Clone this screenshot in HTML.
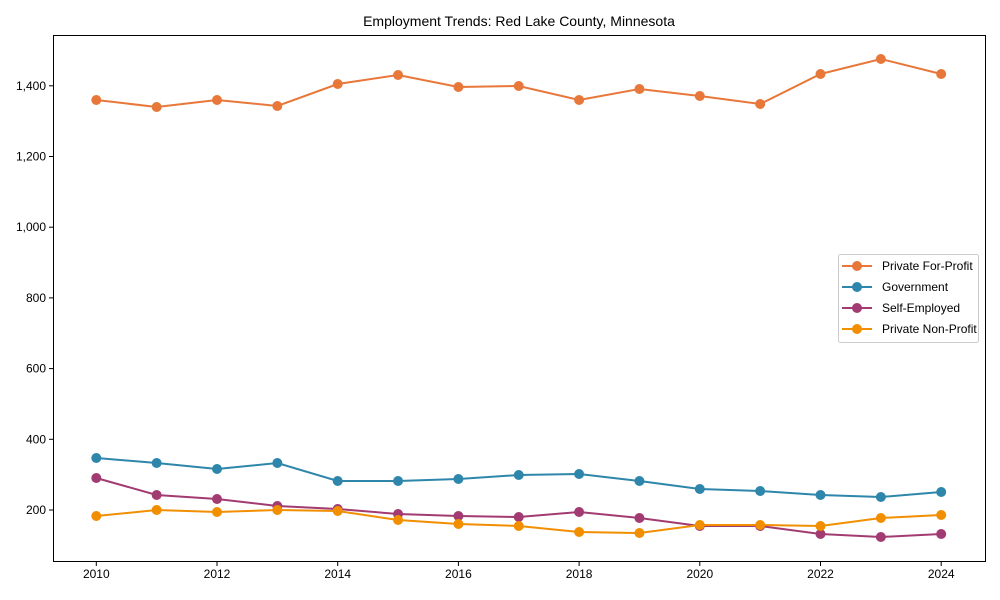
<!DOCTYPE html>
<html><head><meta charset="utf-8"><style>
body{margin:0;background:#fff;}
svg{display:block;font-family:"Liberation Sans",Arial,sans-serif;}
</style></head><body>
<svg width="1000" height="600" viewBox="0 0 1000 600">
<rect width="1000" height="600" fill="#fff"/>
<text x="519" y="26" font-size="14" text-anchor="middle" fill="#000">Employment Trends: Red Lake County, Minnesota</text>
<rect x="53.5" y="35.5" width="932" height="526" fill="none" stroke="#000" stroke-width="1"/>
<g font-size="12" fill="#000" text-anchor="end">
<line x1="49" y1="510" x2="53" y2="510" stroke="#000"/><text x="46" y="514">200</text>
<line x1="49" y1="439.3" x2="53" y2="439.3" stroke="#000"/><text x="46" y="443.3">400</text>
<line x1="49" y1="368.6" x2="53" y2="368.6" stroke="#000"/><text x="46" y="372.6">600</text>
<line x1="49" y1="297.9" x2="53" y2="297.9" stroke="#000"/><text x="46" y="301.9">800</text>
<line x1="49" y1="227.2" x2="53" y2="227.2" stroke="#000"/><text x="46" y="231.2">1,000</text>
<line x1="49" y1="156.5" x2="53" y2="156.5" stroke="#000"/><text x="46" y="160.5">1,200</text>
<line x1="49" y1="85.8" x2="53" y2="85.8" stroke="#000"/><text x="46" y="89.8">1,400</text>
</g>
<g font-size="12" fill="#000" text-anchor="middle">
<line x1="96.3" y1="562" x2="96.3" y2="566" stroke="#000"/><text x="96.3" y="578">2010</text>
<line x1="217" y1="562" x2="217" y2="566" stroke="#000"/><text x="217" y="578">2012</text>
<line x1="337.7" y1="562" x2="337.7" y2="566" stroke="#000"/><text x="337.7" y="578">2014</text>
<line x1="458.4" y1="562" x2="458.4" y2="566" stroke="#000"/><text x="458.4" y="578">2016</text>
<line x1="579.1" y1="562" x2="579.1" y2="566" stroke="#000"/><text x="579.1" y="578">2018</text>
<line x1="699.8" y1="562" x2="699.8" y2="566" stroke="#000"/><text x="699.8" y="578">2020</text>
<line x1="820.5" y1="562" x2="820.5" y2="566" stroke="#000"/><text x="820.5" y="578">2022</text>
<line x1="941.2" y1="562" x2="941.2" y2="566" stroke="#000"/><text x="941.2" y="578">2024</text>
</g>

<polyline fill="none" stroke="#E8773A" stroke-width="2" points="96.3,100 156.65,107 217,100 277.35,106 337.7,84 398.05,75 458.4,87 518.75,86 579.1,100 639.45,89 699.8,96 760.15,104 820.5,74 880.85,59 941.2,74"/>
<g fill="#E8773A">
<circle cx="96.3" cy="100" r="5"/><circle cx="156.65" cy="107" r="5"/><circle cx="217" cy="100" r="5"/><circle cx="277.35" cy="106" r="5"/><circle cx="337.7" cy="84" r="5"/><circle cx="398.05" cy="75" r="5"/><circle cx="458.4" cy="87" r="5"/><circle cx="518.75" cy="86" r="5"/><circle cx="579.1" cy="100" r="5"/><circle cx="639.45" cy="89" r="5"/><circle cx="699.8" cy="96" r="5"/><circle cx="760.15" cy="104" r="5"/><circle cx="820.5" cy="74" r="5"/><circle cx="880.85" cy="59" r="5"/><circle cx="941.2" cy="74" r="5"/>
</g>

<polyline fill="none" stroke="#2E86AB" stroke-width="2" points="96.3,458 156.65,463 217,469 277.35,463 337.7,481 398.05,481 458.4,479 518.75,475 579.1,474 639.45,481 699.8,489 760.15,491 820.5,495 880.85,497 941.2,492"/>
<g fill="#2E86AB">
<circle cx="96.3" cy="458" r="5"/><circle cx="156.65" cy="463" r="5"/><circle cx="217" cy="469" r="5"/><circle cx="277.35" cy="463" r="5"/><circle cx="337.7" cy="481" r="5"/><circle cx="398.05" cy="481" r="5"/><circle cx="458.4" cy="479" r="5"/><circle cx="518.75" cy="475" r="5"/><circle cx="579.1" cy="474" r="5"/><circle cx="639.45" cy="481" r="5"/><circle cx="699.8" cy="489" r="5"/><circle cx="760.15" cy="491" r="5"/><circle cx="820.5" cy="495" r="5"/><circle cx="880.85" cy="497" r="5"/><circle cx="941.2" cy="492" r="5"/>
</g>

<polyline fill="none" stroke="#A23B72" stroke-width="2" points="96.3,478 156.65,495 217,499 277.35,506 337.7,509 398.05,514 458.4,516 518.75,517 579.1,512 639.45,518 699.8,526 760.15,526 820.5,534 880.85,537 941.2,534"/>
<g fill="#A23B72">
<circle cx="96.3" cy="478" r="5"/><circle cx="156.65" cy="495" r="5"/><circle cx="217" cy="499" r="5"/><circle cx="277.35" cy="506" r="5"/><circle cx="337.7" cy="509" r="5"/><circle cx="398.05" cy="514" r="5"/><circle cx="458.4" cy="516" r="5"/><circle cx="518.75" cy="517" r="5"/><circle cx="579.1" cy="512" r="5"/><circle cx="639.45" cy="518" r="5"/><circle cx="699.8" cy="526" r="5"/><circle cx="760.15" cy="526" r="5"/><circle cx="820.5" cy="534" r="5"/><circle cx="880.85" cy="537" r="5"/><circle cx="941.2" cy="534" r="5"/>
</g>

<polyline fill="none" stroke="#F18F01" stroke-width="2" points="96.3,516 156.65,510 217,512 277.35,510 337.7,511 398.05,520 458.4,524 518.75,526 579.1,532 639.45,533 699.8,525 760.15,525 820.5,526 880.85,518 941.2,515"/>
<g fill="#F18F01">
<circle cx="96.3" cy="516" r="5"/><circle cx="156.65" cy="510" r="5"/><circle cx="217" cy="512" r="5"/><circle cx="277.35" cy="510" r="5"/><circle cx="337.7" cy="511" r="5"/><circle cx="398.05" cy="520" r="5"/><circle cx="458.4" cy="524" r="5"/><circle cx="518.75" cy="526" r="5"/><circle cx="579.1" cy="532" r="5"/><circle cx="639.45" cy="533" r="5"/><circle cx="699.8" cy="525" r="5"/><circle cx="760.15" cy="525" r="5"/><circle cx="820.5" cy="526" r="5"/><circle cx="880.85" cy="518" r="5"/><circle cx="941.2" cy="515" r="5"/>
</g>

<rect x="838.5" y="254.5" width="140" height="88" rx="2" fill="#fff" stroke="#ccc"/>
<g font-size="12" fill="#000">
<line x1="842" y1="266" x2="872" y2="266" stroke="#E8773A" stroke-width="2"/><circle cx="857" cy="266" r="5" fill="#E8773A"/><text x="882" y="270">Private For-Profit</text>
<line x1="842" y1="287" x2="872" y2="287" stroke="#2E86AB" stroke-width="2"/><circle cx="857" cy="287" r="5" fill="#2E86AB"/><text x="882" y="291">Government</text>
<line x1="842" y1="308" x2="872" y2="308" stroke="#A23B72" stroke-width="2"/><circle cx="857" cy="308" r="5" fill="#A23B72"/><text x="882" y="312">Self-Employed</text>
<line x1="842" y1="329" x2="872" y2="329" stroke="#F18F01" stroke-width="2"/><circle cx="857" cy="329" r="5" fill="#F18F01"/><text x="882" y="333">Private Non-Profit</text>
</g>
</svg>
</body></html>
